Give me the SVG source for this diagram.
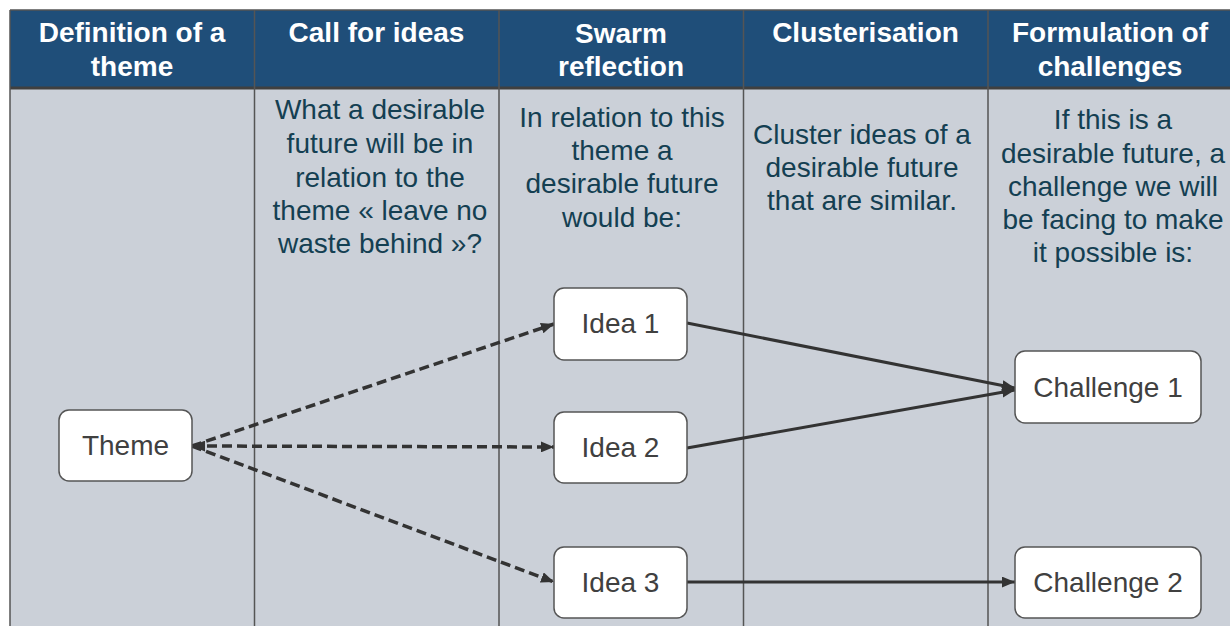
<svg xmlns="http://www.w3.org/2000/svg" width="1230" height="626" viewBox="0 0 1230 626">
<defs>
<style>
.hdr{font-family:"Liberation Sans",Arial,sans-serif;font-weight:bold;font-size:28px;fill:#ffffff;text-anchor:middle}
.body{font-family:"Liberation Sans",Arial,sans-serif;font-size:28px;fill:#143f52;text-anchor:middle}
.lbl{font-family:"Liberation Sans",Arial,sans-serif;font-size:28px;fill:#404040;text-anchor:middle}
.box{fill:#ffffff;stroke:#555555;stroke-width:1.5}
.div{stroke:#555555;stroke-width:1.5}
.dash{fill:none;stroke:#333333;stroke-width:3.5;stroke-dasharray:10 5}
.solid{fill:none;stroke:#333333;stroke-width:3}
</style>
<marker id="arr" viewBox="0 0 12 10" refX="12" refY="5" markerWidth="13" markerHeight="11" markerUnits="userSpaceOnUse" orient="auto-start-reverse">
<path d="M0,0 L12,5 L0,10 z" fill="#333333"/>
</marker>
</defs>
<g id="background">
<rect x="10" y="10" width="1230" height="626" fill="#cbd0d8"/>
<rect x="10" y="10" width="1230" height="78" fill="#1f4e79"/>
<line x1="10" y1="10" x2="1230" y2="10" class="div"/>
<line x1="10" y1="88" x2="1230" y2="88" stroke="#404040" stroke-width="3"/>
<line x1="10" y1="10" x2="10" y2="626" class="div"/>
<line x1="254.5" y1="10" x2="254.5" y2="626" class="div"/>
<line x1="499" y1="10" x2="499" y2="626" class="div"/>
<line x1="743.5" y1="10" x2="743.5" y2="626" class="div"/>
<line x1="988" y1="10" x2="988" y2="626" class="div"/>
</g>
<g id="headers">
<text class="hdr" x="132" y="42">Definition of a<tspan x="132" y="76">theme</tspan></text>
<text class="hdr" x="376.5" y="42">Call for ideas</text>
<text class="hdr" x="621" y="43">Swarm<tspan x="621" y="76">reflection</tspan></text>
<text class="hdr" x="865.5" y="42">Clusterisation</text>
<text class="hdr" x="1110" y="42">Formulation of<tspan x="1110" y="76">challenges</tspan></text>
</g>
<g id="descriptions">
<text class="body" x="380" y="119">What a desirable<tspan x="380" y="153">future will be in</tspan><tspan x="380" y="187">relation to the</tspan><tspan x="380" y="220">theme « leave no</tspan><tspan x="380" y="253">waste behind »?</tspan></text>
<text class="body" x="622" y="127">In relation to this<tspan x="622" y="160">theme a</tspan><tspan x="622" y="193">desirable future</tspan><tspan x="622" y="227">would be:</tspan></text>
<text class="body" x="862" y="144">Cluster ideas of a<tspan x="862" y="177">desirable future</tspan><tspan x="862" y="210">that are similar.</tspan></text>
<text class="body" x="1113" y="129">If this is a<tspan x="1113" y="163">desirable future, a</tspan><tspan x="1113" y="196">challenge we will</tspan><tspan x="1113" y="229">be facing to make</tspan><tspan x="1113" y="262">it possible is:</tspan></text>
</g>
<g id="connectors">
<line x1="192" y1="446" x2="554" y2="324" class="dash" marker-end="url(#arr)"/>
<line x1="192" y1="446" x2="554" y2="447" class="dash" marker-start="url(#arr)" marker-end="url(#arr)"/>
<line x1="192" y1="446" x2="554" y2="582" class="dash" marker-end="url(#arr)"/>
<line x1="687" y1="323" x2="1015" y2="388" class="solid" marker-end="url(#arr)"/>
<line x1="687" y1="448" x2="1015" y2="390" class="solid" marker-end="url(#arr)"/>
<line x1="687" y1="582" x2="1015" y2="582" class="solid" marker-end="url(#arr)"/>
</g>
<g id="node-theme">
<rect class="box" x="59" y="410" width="133" height="71" rx="10"/>
<text class="lbl" x="125.5" y="455">Theme</text>
</g>
<g id="node-idea1">
<rect class="box" x="554" y="288" width="133" height="72" rx="10"/>
<text class="lbl" x="620.5" y="333">Idea 1</text>
</g>
<g id="node-idea2">
<rect class="box" x="554" y="412" width="133" height="71" rx="10"/>
<text class="lbl" x="620.5" y="457">Idea 2</text>
</g>
<g id="node-idea3">
<rect class="box" x="554" y="547" width="133" height="71" rx="10"/>
<text class="lbl" x="620.5" y="592">Idea 3</text>
</g>
<g id="node-challenge1">
<rect class="box" x="1015" y="351" width="186" height="72" rx="10"/>
<text class="lbl" x="1108" y="397">Challenge 1</text>
</g>
<g id="node-challenge2">
<rect class="box" x="1015" y="547" width="186" height="71" rx="10"/>
<text class="lbl" x="1108" y="592">Challenge 2</text>
</g>
</svg>
